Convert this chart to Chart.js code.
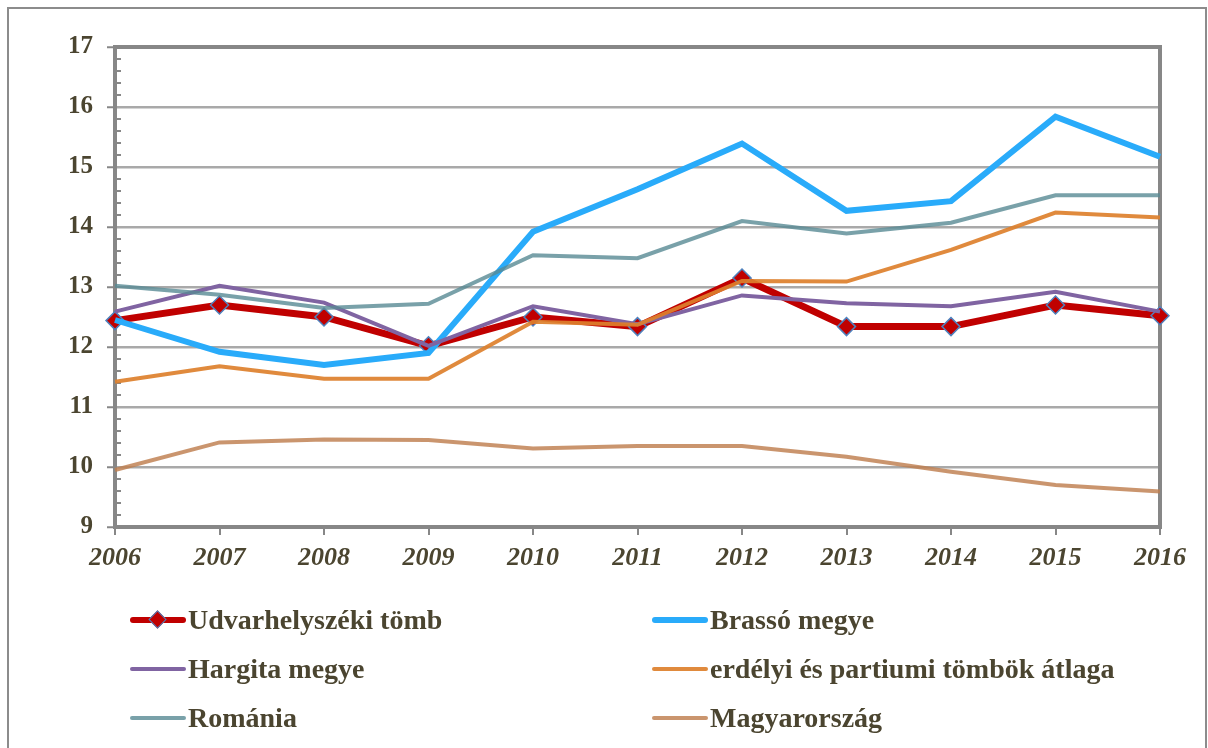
<!DOCTYPE html>
<html>
<head>
<meta charset="utf-8">
<script src="https://cdn.jsdelivr.net/npm/chart.js@4"></script>
<style>
  html, body { margin: 0; padding: 0; background: #fff; overflow: hidden; }
  #wrap { position: relative; width: 1208px; height: 748px; }
  #frame { position: absolute; left: 7px; top: 7px; width: 1196px; height: 760px; border: 2px solid #8c8c8c; }
  canvas { position: absolute; left: 0; top: 0; }
  .leg { position: absolute; font-family: 'Liberation Serif', serif; font-weight: bold; font-size: 28px; color: #4b4530; white-space: nowrap; line-height: 1; }
  .leg .ln { position: absolute; left: -58px; top: 50%; width: 56px; border-radius: 3px; }
  .leg .dm { position: absolute; left: -37px; top: 50%; width: 11px; height: 11px; margin-top: -7px; background: #c00000; border: 1.5px solid #4f81bd; transform: rotate(45deg); }
</style>
</head>
<body>
<div id="wrap">
  <div id="frame"></div>
  <canvas id="myLineChart" width="1208" height="748"></canvas>
  <div id="legend"></div>
</div>
<script>
// data
var years = ['2006', '2007', '2008', '2009', '2010', '2011', '2012', '2013', '2014', '2015', '2016'];
var udvarhely = [12.44, 12.70, 12.50, 12.02, 12.50, 12.34, 13.15, 12.34, 12.34, 12.70, 12.52];
var brasso = [12.45, 11.92, 11.70, 11.90, 13.92, 14.63, 15.39, 14.27, 14.43, 15.84, 15.17];
var hargita = [12.59, 13.02, 12.74, 12.02, 12.68, 12.38, 12.86, 12.73, 12.68, 12.92, 12.59];
var erdelyi = [11.42, 11.68, 11.47, 11.47, 12.42, 12.37, 13.10, 13.09, 13.62, 14.24, 14.16];
var romania = [13.02, 12.87, 12.65, 12.72, 13.53, 13.48, 14.10, 13.89, 14.07, 14.53, 14.53];
var magyar = [9.95, 10.41, 10.46, 10.45, 10.31, 10.35, 10.35, 10.17, 9.92, 9.70, 9.59];
var yTicks = [9, 10, 11, 12, 13, 14, 15, 16, 17];

var textColor = '#4b4530';
var axisGray = '#878787';

// frame + minor ticks on the y axis
var framePlugin = {
  id: 'frame',
  beforeDatasetsDraw: function(chart) {
    var a = chart.chartArea, ctx = chart.ctx, y = chart.scales.y;
    ctx.save();
    ctx.strokeStyle = axisGray;
    ctx.lineWidth = 4;
    ctx.strokeRect(a.left, a.top, a.right - a.left, a.bottom - a.top);
    ctx.lineWidth = 2;
    for (var v = yTicks[0]; v < yTicks[yTicks.length - 1]; v += 0.2) {
      var r = Math.round(v * 10) / 10;
      if (Math.abs(r - Math.round(r)) < 0.01) continue;
      var py = y.getPixelForValue(r);
      ctx.beginPath();
      ctx.moveTo(a.left, py);
      ctx.lineTo(a.left + 6, py);
      ctx.stroke();
    }
    ctx.restore();
  }
};

var ctx = document.getElementById('myLineChart');
var myLineChart = new Chart(ctx, {
  type: 'line',
  data: {
    labels: years,
    datasets: [{
      label: 'Udvarhelyszéki tömb',
      data: udvarhely,
      borderColor: '#c00000',
      backgroundColor: '#c00000',
      borderWidth: 7,
      pointStyle: 'rectRot',
      pointRadius: 9,
      pointBackgroundColor: '#c00000',
      pointBorderColor: '#4f81bd',
      pointBorderWidth: 1.5,
      order: 6
    }, {
      label: 'Brassó megye',
      data: brasso,
      borderColor: '#29abfa',
      borderWidth: 6,
      pointRadius: 0,
      order: 5
    }, {
      label: 'Hargita megye',
      data: hargita,
      borderColor: '#8064a2',
      borderWidth: 4,
      pointRadius: 0,
      order: 4
    }, {
      label: 'erdélyi és partiumi tömbök átlaga',
      data: erdelyi,
      borderColor: 'rgba(221,128,44,0.92)',
      borderWidth: 4,
      pointRadius: 0,
      order: 3
    }, {
      label: 'Románia',
      data: romania,
      borderColor: 'rgba(88,138,148,0.8)',
      borderWidth: 4,
      pointRadius: 0,
      order: 2
    }, {
      label: 'Magyarország',
      data: magyar,
      borderColor: 'rgba(190,126,78,0.82)',
      borderWidth: 4,
      pointRadius: 0,
      order: 1
    }]
  },
  options: {
    responsive: false,
    animation: false,
    layout: { padding: { left: 0, top: 47, right: 48, bottom: 0 } },
    elements: { line: { tension: 0 } },
    datasets: { line: { clip: false } },
    scales: {
      x: {
        offset: false,
        afterFit: function(s) { s.height = 221; },
        grid: { drawOnChartArea: false, drawTicks: true, tickLength: 8, color: axisGray, lineWidth: 2 },
        border: { display: true, color: axisGray, width: 4 },
        ticks: {
          color: textColor,
          padding: 8,
          maxRotation: 0,
          autoSkip: false,
          font: { family: 'Liberation Serif', size: 26, weight: 'bold', style: 'italic' }
        }
      },
      y: {
        min: yTicks[0],
        max: yTicks[yTicks.length - 1],
        afterFit: function(s) { s.width = 115; },
        afterBuildTicks: function(s) { s.ticks = yTicks.map(function(v) { return { value: v }; }); },
        grid: { color: '#a9a9a9', lineWidth: 2.5, tickLength: 8, tickColor: axisGray, tickWidth: 2 },
        border: { display: true, color: axisGray, width: 4 },
        ticks: {
          color: textColor,
          padding: 14,
          font: { family: 'Liberation Serif', size: 25, weight: 'bold' }
        }
      }
    },
    plugins: {
      legend: { display: false },
      tooltip: { enabled: false }
    }
  },
  plugins: [framePlugin]
});

// legend below the chart in two columns
var legendPos = [[188, 620], [710, 620], [188, 669], [710, 669], [188, 718], [710, 718]];
var legendOrder = [0, 1, 2, 3, 4, 5];
var legendBox = document.getElementById('legend');
legendOrder.forEach(function(i, k) {
  var ds = myLineChart.data.datasets[i];
  var item = document.createElement('div');
  item.className = 'leg';
  item.style.left = legendPos[k][0] + 'px';
  item.style.top = (legendPos[k][1] - 15) + 'px';
  item.style.height = '30px';
  item.style.lineHeight = '30px';
  var ln = document.createElement('span');
  ln.className = 'ln';
  var w = i < 2 ? 6 : 4;
  ln.style.height = w + 'px';
  ln.style.marginTop = (-w / 2) + 'px';
  ln.style.background = ds.borderColor;
  item.appendChild(ln);
  if (i === 0) {
    var dm = document.createElement('span');
    dm.className = 'dm';
    item.appendChild(dm);
  }
  item.appendChild(document.createTextNode(ds.label));
  legendBox.appendChild(item);
});
</script>
</body>
</html>
